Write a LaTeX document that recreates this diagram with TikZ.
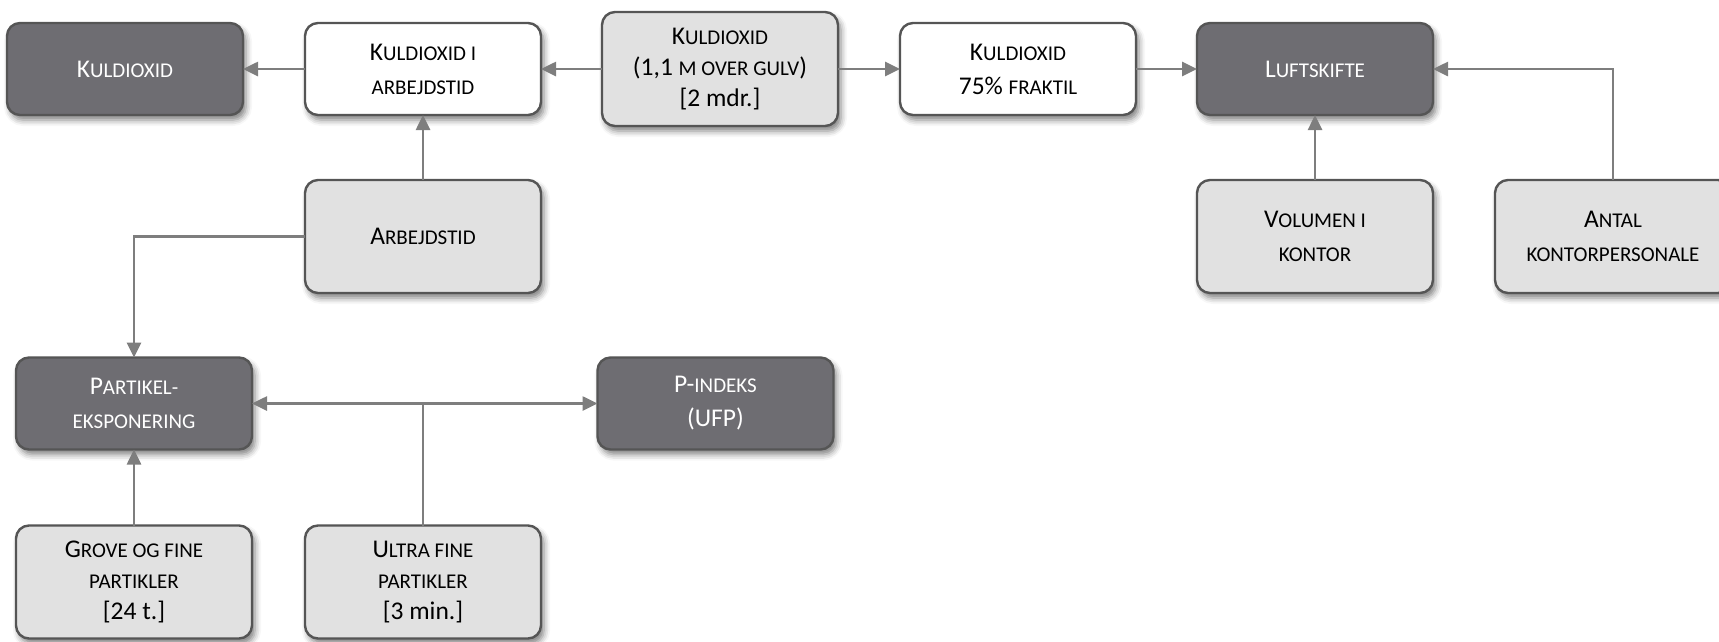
\documentclass[tikz,border=0pt]{standalone}
\usepackage{fontspec}
\setmainfont{Carlito}
\usetikzlibrary{arrows.meta,shadows.blur}

% fake small caps: capital letters set smaller
\newcommand{\lc}[1]{{\fontsize{21}{31}\selectfont #1}}

\definecolor{darkfill}{HTML}{6E6D72}
\definecolor{lightfill}{HTML}{E1E1E1}
\definecolor{boxline}{HTML}{555555}
\definecolor{linkcol}{HTML}{7E7E7E}

\tikzset{
  box/.style={draw=boxline, line width=2.4pt, rounded corners=13pt,
    minimum width=236pt, minimum height=92pt, align=center, inner sep=2pt,
    outer sep=0pt, font=\fontsize{25.5}{31}\selectfont,
    blur shadow={shadow xshift=3pt, shadow yshift=-5pt,
      shadow blur radius=6pt, shadow opacity=50}},
  darkbox/.style={box, fill=darkfill, text=white},
  lightbox/.style={box, fill=lightfill, text=black},
  whitebox/.style={box, fill=white, text=black},
  tall/.style={minimum height=113pt},
  twoline/.style={font=\fontsize{25.5}{34}\selectfont},
  link/.style={draw=linkcol, line width=2.6pt,
    -{Triangle[length=15pt,width=14pt]}},
  plainlink/.style={draw=linkcol, line width=2.6pt}
}

\begin{document}
\begin{tikzpicture}[x=1pt, y=-1pt]
\useasboundingbox (0,0) rectangle (1719,641);

% top row: carbon dioxide chain
\node[darkbox]  (co2)    at (125,69)    {K\lc{ULDIOXID}};
\node[whitebox, twoline] (co2arb) at (423,69) {K\lc{ULDIOXID I}\\\lc{ARBEJDSTID}};
\node[lightbox, minimum height=114pt] (co2m) at (720,69)
  {K\lc{ULDIOXID}\\(1,1 \lc{M OVER GULV})\\{[}2 mdr.{]}};
\node[whitebox, twoline] (co2f) at (1018,69) {K\lc{ULDIOXID}\\75\% \lc{FRAKTIL}};
\node[darkbox]  (luft)   at (1315,69)   {L\lc{UFTSKIFTE}};

% second row
\node[lightbox, tall] (arb)   at (423,236.5)  {A\lc{RBEJDSTID}};
\node[lightbox, tall, twoline] (vol)   at (1315,236.5) {V\lc{OLUMEN I}\\\lc{KONTOR}};
\node[lightbox, tall, twoline] (antal) at (1613,236.5) {A\lc{NTAL}\\\lc{KONTORPERSONALE}};

% particle exposure
\node[darkbox, twoline] (part) at (134,403.5)  {P\lc{ARTIKEL-}\\\lc{EKSPONERING}};
\node[darkbox, twoline] (pind) at (715.5,403.5) {P-\lc{INDEKS}\\(UFP)};

% bottom row
\node[lightbox, tall] (grove) at (134,582)
  {G\lc{ROVE OG FINE}\\\lc{PARTIKLER}\\{[}24 t.{]}};
\node[lightbox, tall] (ultra) at (423,582)
  {U\lc{LTRA FINE}\\\lc{PARTIKLER}\\{[}3 min.{]}};

% connectors
\draw[link] (co2arb) -- (co2);
\draw[link] (co2m) -- (co2arb);
\draw[link] (co2m) -- (co2f);
\draw[link] (co2f) -- (luft);
\draw[link] (vol) -- (luft);
\draw[link] (antal.north) |- (luft.east);
\draw[link] (arb) -- (co2arb);
\draw[link] (arb.west) -| (part.north);
\draw[link] (grove) -- (part);

\coordinate (split) at (ultra.north |- part.east);
\draw[plainlink] (ultra.north) -- (split);
\draw[link] (split) -- (part.east);
\draw[link] (split) -- (pind.west);
\end{tikzpicture}
\end{document}
